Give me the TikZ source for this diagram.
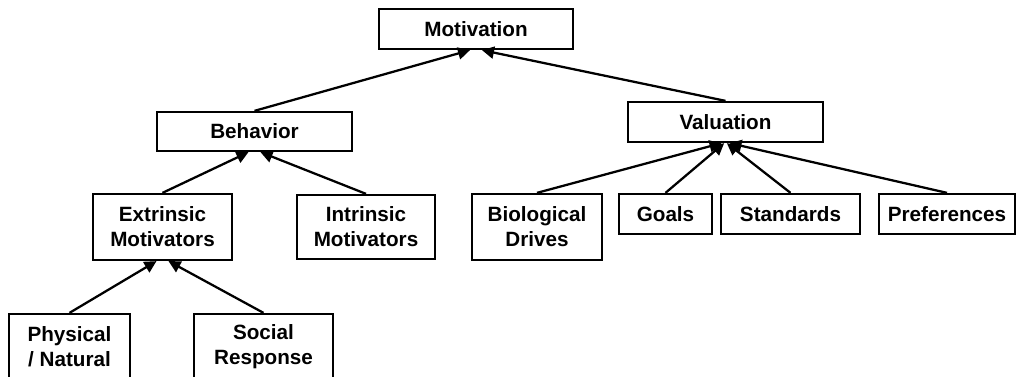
\documentclass[tikz,border=0pt]{standalone}
\usepackage{fontspec}
\setmainfont{Liberation Sans}
\usetikzlibrary{arrows.meta}

\tikzset{every picture/.style={line width=1.5pt}}
\tikzset{box/.style={draw, line width=1.7pt, inner sep=0pt, align=center, font=\bfseries\fontsize{15.5}{18.75}\selectfont},
         arr/.style={-{Triangle[length=9pt,width=9pt]}, line width=1.7pt}}

\begin{document}
\begin{tikzpicture}[x=0.75pt,y=0.75pt,yscale=-1,xscale=1]
\useasboundingbox (0,0) rectangle (1016,377);

%Shape: Rectangle [top]
\node[box, minimum width=145.5pt, minimum height=30pt] (motiv) at (476,29) {Motivation};
%Shape: Rectangle [second row]
\node[box, minimum width=146.25pt, minimum height=29.25pt] (behav) at (254.5,131.5) {Behavior};
\node[box, minimum width=146.25pt, minimum height=30pt] (valu) at (725.5,122) {Valuation};
%Shape: Rectangle [third row]
\node[box, minimum width=104.25pt, minimum height=49.5pt] (extr) at (162.5,227) {Extrinsic\\Motivators};
\node[box, minimum width=103.5pt, minimum height=48pt] (intr) at (366,227) {Intrinsic\\Motivators};
\node[box, minimum width=97.5pt, minimum height=49.5pt] (biol) at (537,227) {Biological\\Drives};
\node[box, minimum width=69.75pt, minimum height=30pt] (goals) at (665.5,214) {Goals};
\node[box, minimum width=104.25pt, minimum height=30pt] (stand) at (790.5,214) {Standards};
\node[box, minimum width=102pt, minimum height=30pt] (pref) at (947,214) {Preferences};
%Shape: Rectangle [bottom row]
\node[box, minimum width=90.75pt, minimum height=49.5pt] (phys) at (69.5,347) {Physical\\/ Natural};
\node[box, minimum width=104.25pt, minimum height=49.5pt] (soc) at (263.5,347) {Social\\Response};

%Straight Lines
\draw[arr] (behav.north) -- ([xshift=-4.5pt]motiv.south);
\draw[arr] (valu.north) -- ([xshift=4.5pt]motiv.south);
\draw[arr] (extr.north) -- ([xshift=-4.5pt]behav.south);
\draw[arr] (intr.north) -- ([xshift=4.5pt]behav.south);
\draw[arr] (phys.north) -- ([xshift=-4.5pt]extr.south);
\draw[arr] (soc.north) -- ([xshift=4.5pt]extr.south);
\draw[arr] (biol.north) -- ([xshift=-3pt]valu.south);
\draw[arr] (goals.north) -- ([xshift=-1pt]valu.south);
\draw[arr] (stand.north) -- ([xshift=1pt]valu.south);
\draw[arr] (pref.north) -- ([xshift=3pt]valu.south);

\end{tikzpicture}
\end{document}
